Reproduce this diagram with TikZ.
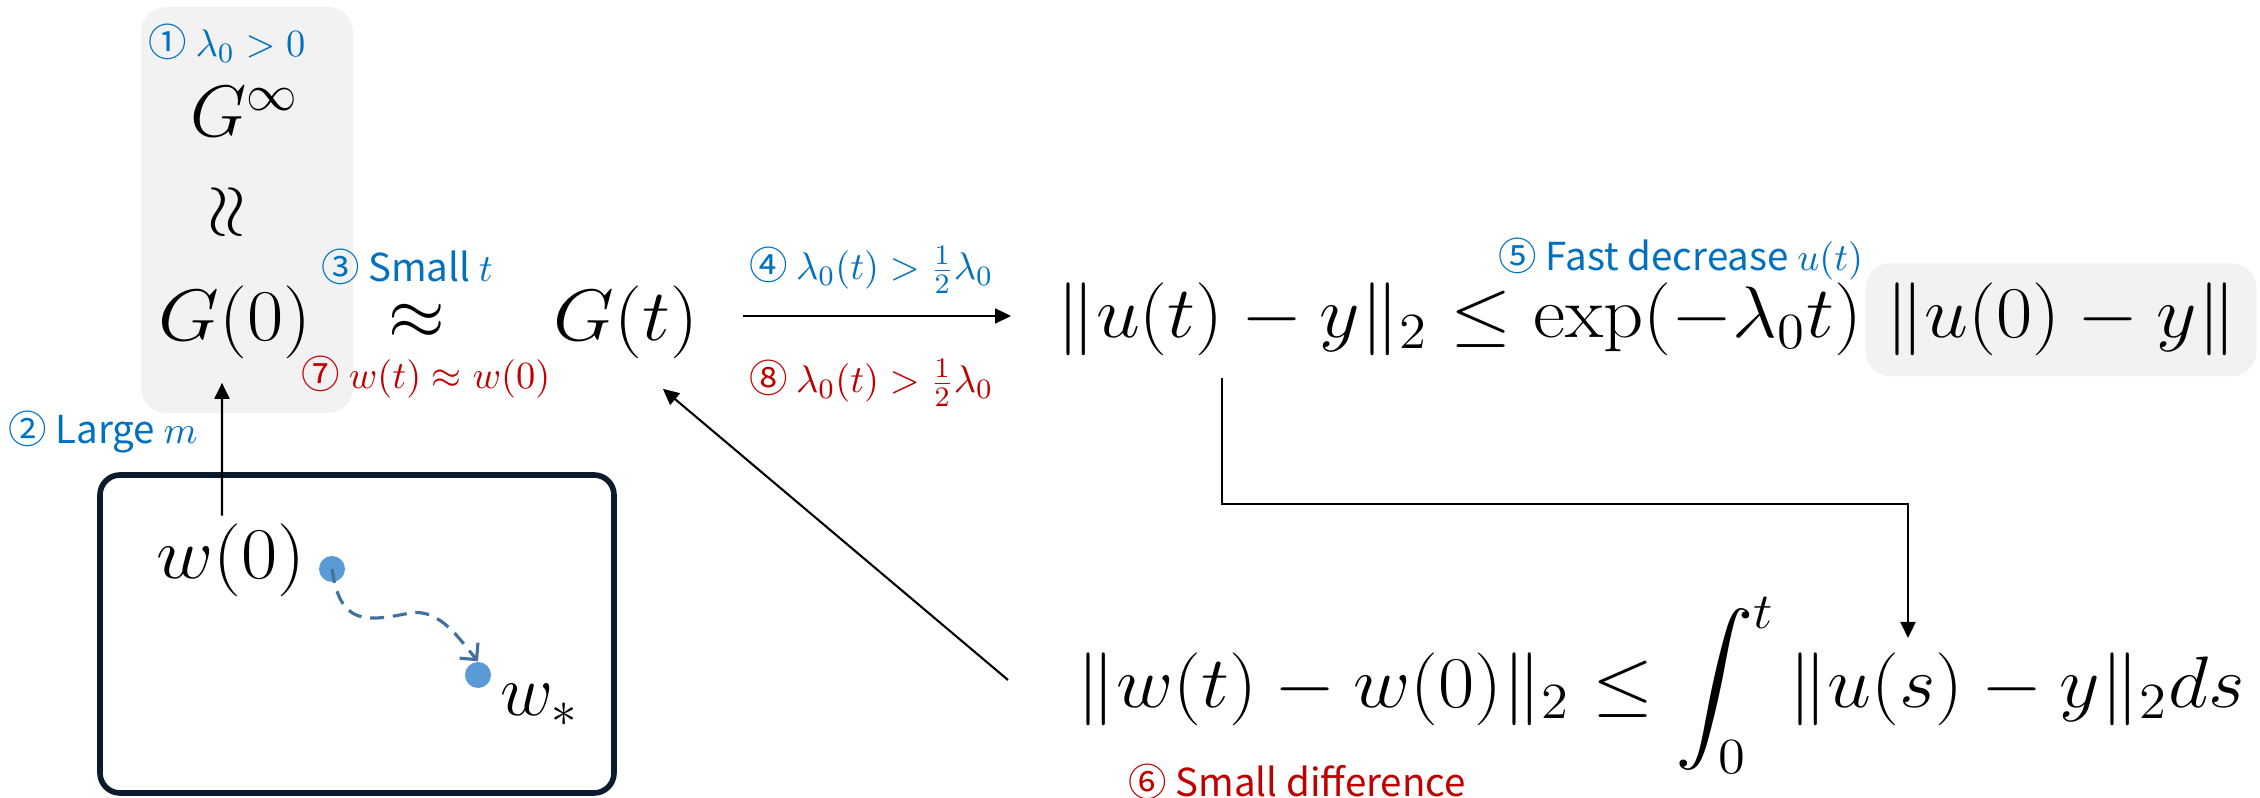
\documentclass[tikz,border=0pt]{standalone}
\usepackage{amsmath}
\usepackage{graphicx}
\usepackage{fontspec}
\newfontfamily\labelfont{Noto Sans CJK KR}
\newcommand{\widemath}[1]{\scalebox{1.08}[1]{$#1$}}
\usetikzlibrary{arrows.meta,positioning}
\definecolor{nblue}{HTML}{0070C0}
\definecolor{nred}{HTML}{C00000}
\definecolor{npanel}{HTML}{F2F2F2}
\definecolor{nframe}{HTML}{0C1A2E}
\definecolor{ndot}{HTML}{5B9BD5}
\definecolor{npath}{HTML}{41719C}

\begin{document}
\begin{tikzpicture}[
  term/.style={inner sep=0pt, font=\fontsize{20.74}{24}\selectfont},
  note/.style={inner sep=0pt, font=\labelfont\fontsize{10.95}{13}\selectfont, text=nblue},
  warn/.style={note, text=nred},
  panel/.style={fill=npanel, rounded corners=0.25cm},
  space/.style={draw=nframe, line width=1.6pt, rounded corners=0.2cm,
    minimum width=5.14cm, minimum height=3.18cm},
  dot/.style={circle, fill=ndot, minimum size=0.26cm, inner sep=0pt},
  flow/.style={-{Triangle[length=0.16cm, width=0.15cm]}, line width=0.6pt},
  drift/.style={-{Straight Barb[length=0.12cm]}, draw=npath, line width=0.9pt,
    dash pattern=on 4pt off 2.5pt}
]
\useasboundingbox (0,0) rectangle (22.6,-7.98);

% kernel panel
\fill[panel] (1.41,-0.07) rectangle (3.53,-4.13);

\node[note] (lam) at (2.27,-0.43) {① $\lambda_0>0$};
\node[term, anchor=base] (ginf) at (2.45,-1.37) {$G^{\infty}$};
\node[term, rotate=90] (vapprox) at (2.29,-2.12) {$\approx$};
\node[term, anchor=base] (g0) at (2.35,-3.41) {\widemath{G(0)}};
\node[term] (happrox) at (4.17,-3.22) {$\approx$};
\node[term, anchor=base] (gt) at (6.26,-3.41) {\widemath{G(t)}};

\node[note] (small) at (4.07,-2.67) {③ Small $t$};
\node[warn] (near) at (4.26,-3.77) {⑦ $w(t)\approx w(0)$};
\node[note] (large) at (1.03,-4.32) {② Large $m$};

% weight space
\node[space] (frame) at (3.57,-6.34) {};
\node[term, anchor=base] (w0) at (2.31,-5.79) {\widemath{w(0)}};
\node[dot] (d1) at (3.32,-5.69) {};
\node[dot] (d2) at (4.78,-6.75) {};
\node[term, anchor=base west] (wst) at (5.00,-7.16) {$w_*$};
\draw[drift] (d1.center) .. controls (3.40,-6.25) and (3.65,-6.22) .. (4.10,-6.13)
  .. controls (4.40,-6.08) and (4.60,-6.40) .. (d2.north);

\draw[flow] ([shift={(-0.09,0.08)}]w0.north) -- ([shift={(-0.13,-0.23)}]g0.south);

% loss decay
\node[note] (lab4) at (8.71,-2.70) {④ $\lambda_0(t)>\tfrac{1}{2}\lambda_0$};
\node[warn] (lab8) at (8.71,-3.83) {⑧ $\lambda_0(t)>\tfrac{1}{2}\lambda_0$};
\node[term, anchor=base west] (eq1a) at (10.56,-3.38) {\widemath{\|u(t)-y\|_2 \le \exp(-\lambda_0 t)}};
\node[term, panel, inner xsep=0.2cm, inner ysep=0.2cm, base right=0.02cm of eq1a] (eq1b) {\widemath{\|u(0)-y\|}};
\node[note] (fast) at (16.81,-2.59) {⑤ Fast decrease $u(t)$};

\draw[flow] ([shift={(0.44,0.25)}]gt.base east) -- ([shift={(-0.45,0.22)}]eq1a.base west);

% weight movement
\node[term, anchor=base west] (eq2) at (10.76,-7.08) {\widemath{\|w(t)-w(0)\|_2 \le \displaystyle\int_0^t \|u(s)-y\|_2 ds}};
\node[warn] (diff) at (12.97,-7.82) {⑥ Small difference};

\coordinate (ufoot) at (12.22,-3.78);
\coordinate (shead) at (19.08,-6.38);
\draw[flow] (ufoot) -- ++(0,-1.26) -| (shead);
\draw[flow] ([shift={(-0.68,0.28)}]eq2.base west) -- ([shift={(-0.36,-0.29)}]gt.south east);
\end{tikzpicture}
\end{document}
